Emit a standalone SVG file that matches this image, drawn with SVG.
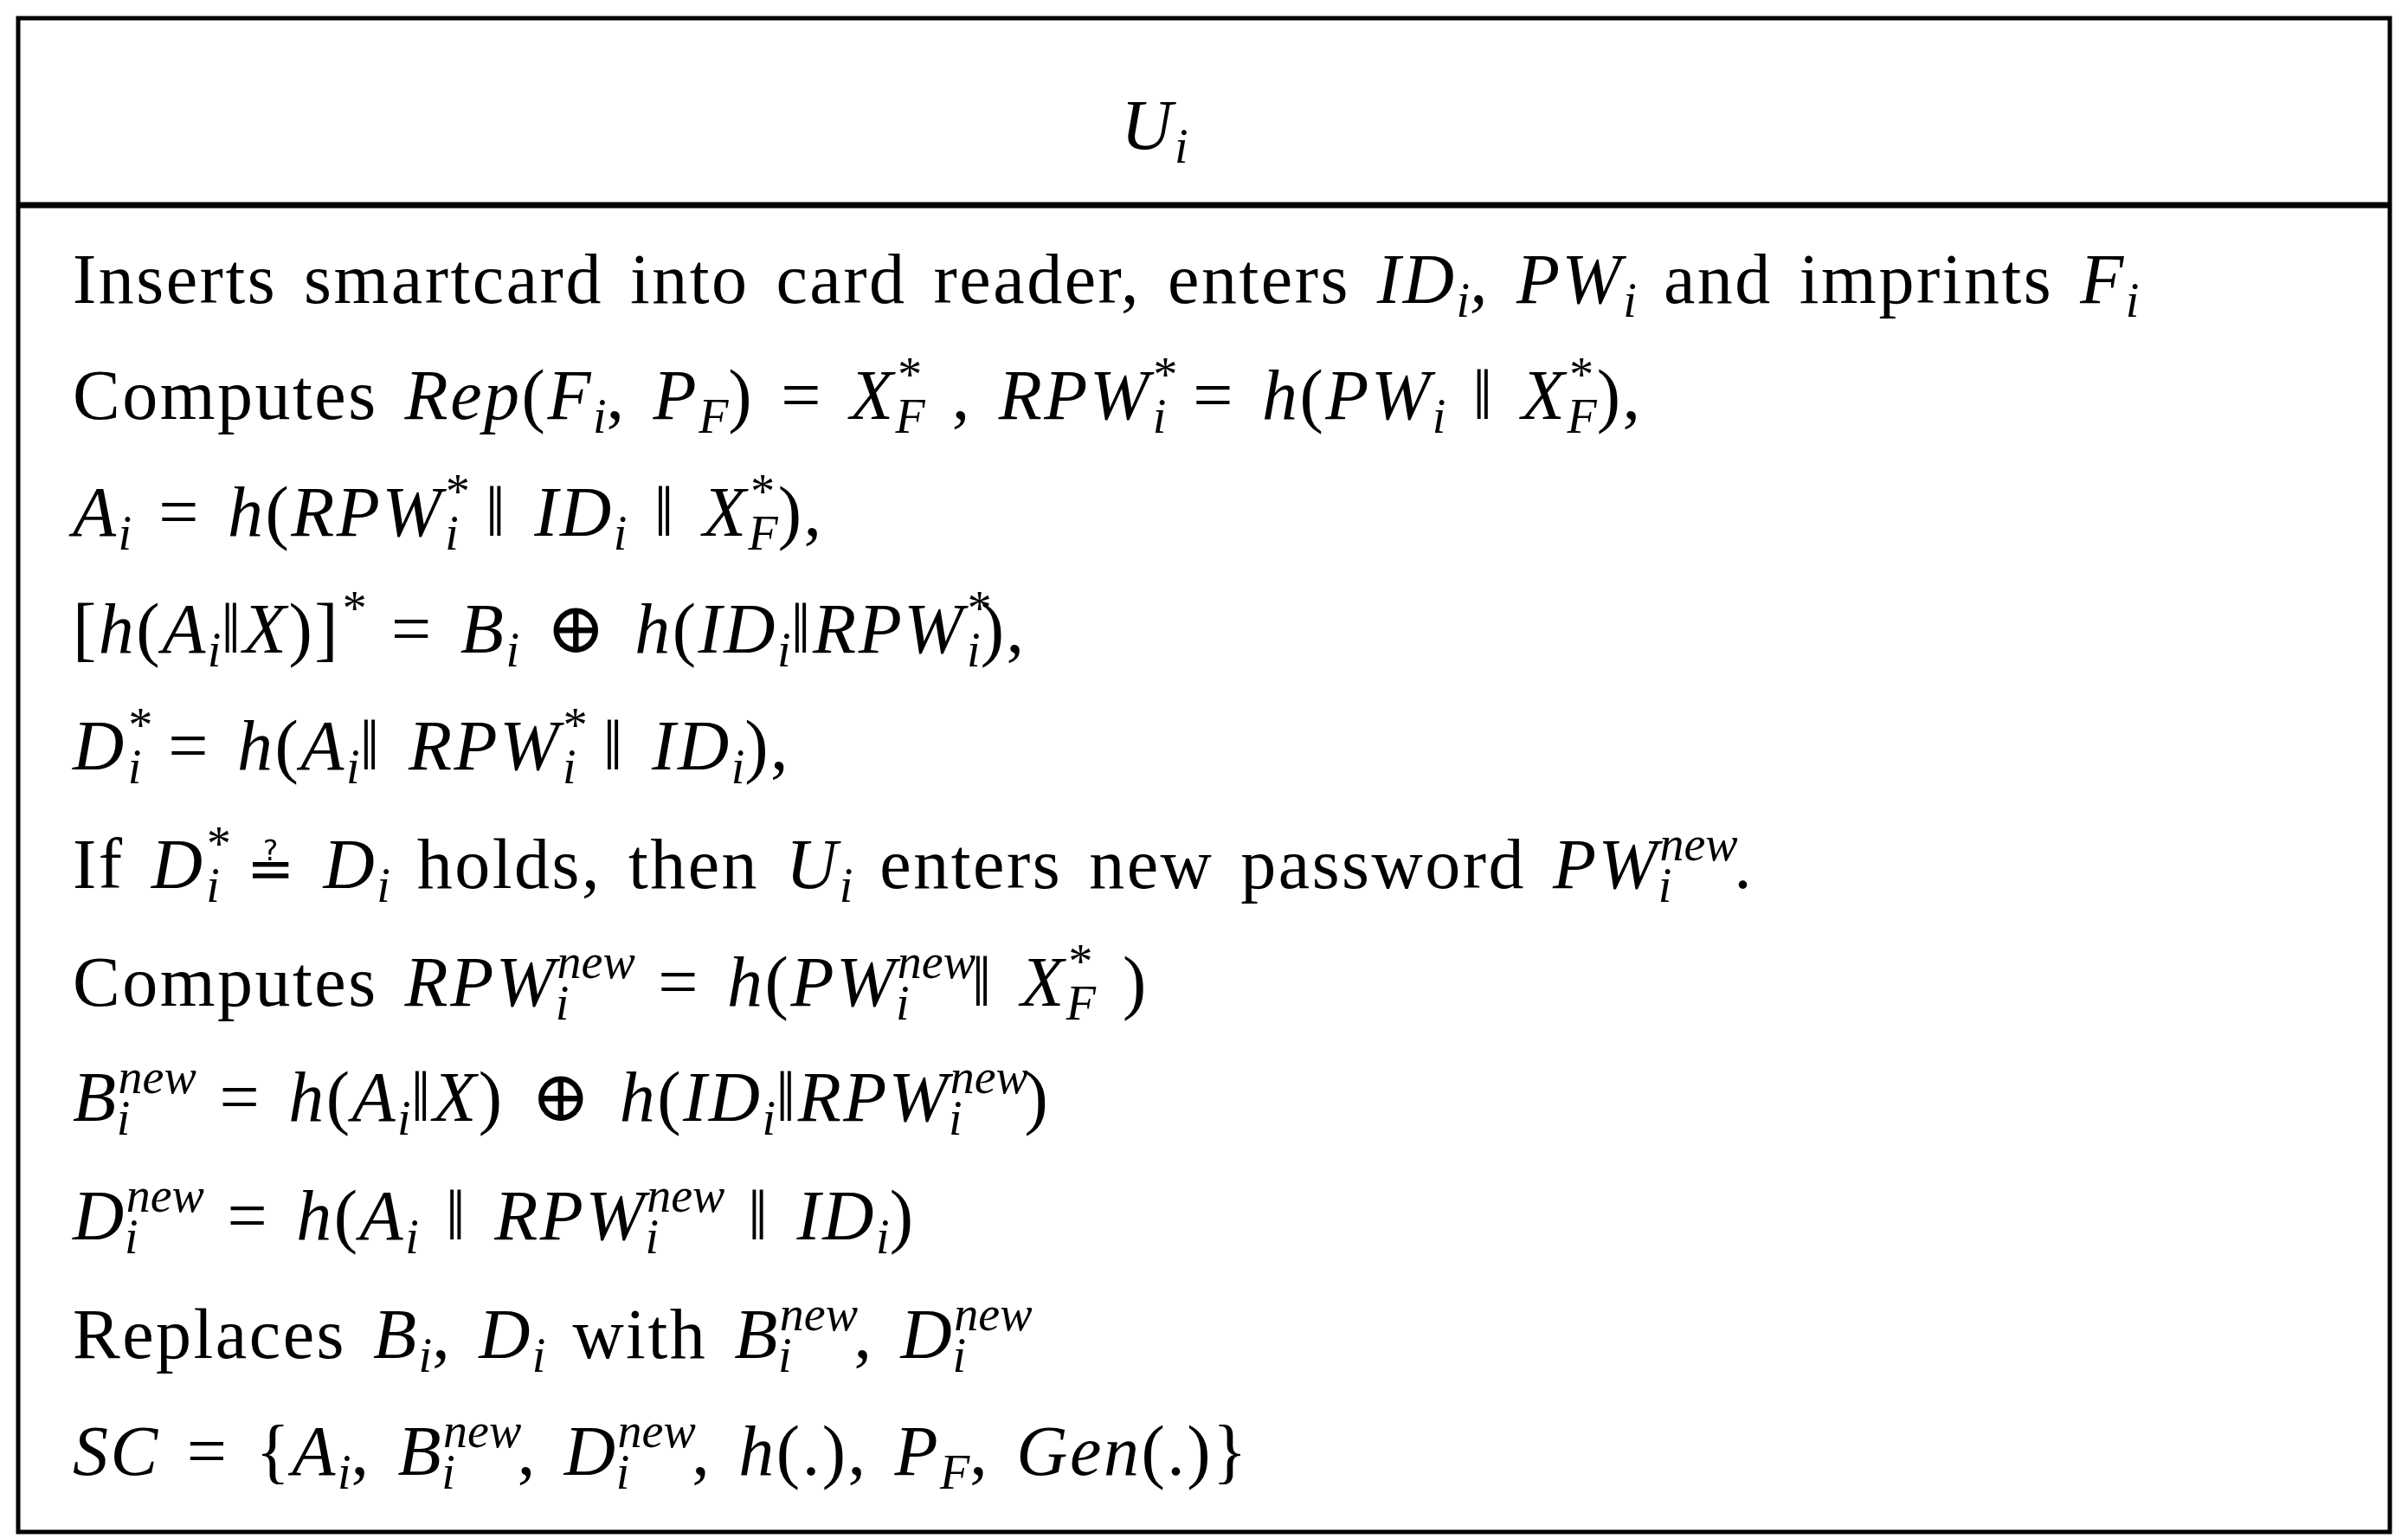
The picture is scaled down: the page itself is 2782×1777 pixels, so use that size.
<svg xmlns="http://www.w3.org/2000/svg" width="2782" height="1777" viewBox="0 0 2782 1777">
<style>
text{font-family:"Liberation Serif","DejaVu Serif",serif;font-size:82px;fill:#000;letter-spacing:2.5px;word-spacing:8px}
.m{font-style:italic}
.b{font-size:56px;font-style:italic;letter-spacing:0}
.p{baseline-shift:-16px}
.q{baseline-shift:32px}
</style>
<rect x="0" y="0" width="2782" height="1777" fill="#fff"/>
<g id="frame">
<rect x="21" y="21" width="2740" height="1749" fill="none" stroke="#000" stroke-width="5"/>
<line x1="21" y1="237" x2="2761" y2="237" stroke="#000" stroke-width="7"/>
</g>
<g id="header"><text x="1334" y="172" text-anchor="middle"><tspan class="m">U</tspan><tspan class="b p">i</tspan></text></g>
<g id="body">
<text x="84" y="350">Inserts smartcard into card reader, enters  <tspan class="m">ID</tspan><tspan class="b p">i</tspan><tspan class="m">,  PW</tspan><tspan class="b p">i</tspan> and imprints  <tspan class="m">F</tspan><tspan class="b p">i</tspan></text>
<text x="84" y="484">Computes  <tspan class="m">Rep</tspan>(<tspan class="m">F</tspan><tspan class="b p">i</tspan>,  <tspan class="m">P</tspan><tspan class="b p">F</tspan>)  =  <tspan class="m">X</tspan><tspan class="b q">*</tspan><tspan class="b p" dx="-28">F</tspan>  ,  <tspan class="m">RPW</tspan><tspan class="b q">*</tspan><tspan class="b p" dx="-26">i</tspan>  =  <tspan class="m">h</tspan>(<tspan class="m">PW</tspan><tspan class="b p">i</tspan> ‖ <tspan class="m">X</tspan><tspan class="b q">*</tspan><tspan class="b p" dx="-28">F</tspan>),</text>
<text x="84" y="619"><tspan class="m">A</tspan><tspan class="b p">i</tspan>  =  <tspan class="m">h</tspan>(<tspan class="m">RPW</tspan><tspan class="b q">*</tspan><tspan class="b p" dx="-26">i</tspan> ‖ <tspan class="m">ID</tspan><tspan class="b p">i</tspan> ‖ <tspan class="m">X</tspan><tspan class="b q">*</tspan><tspan class="b p" dx="-28">F</tspan>),</text>
<text x="84" y="754">[<tspan class="m">h</tspan>(<tspan class="m">A</tspan><tspan class="b p">i</tspan>‖<tspan class="m">X</tspan>)]<tspan class="b q">*</tspan>  =  <tspan class="m">B</tspan><tspan class="b p">i</tspan> ⊕ <tspan class="m">h</tspan>(<tspan class="m">ID</tspan><tspan class="b p">i</tspan>‖<tspan class="m">RPW</tspan><tspan class="b q">*</tspan><tspan class="b p" dx="-26">i</tspan>),</text>
<text x="84" y="889"><tspan class="m">D</tspan><tspan class="b q">*</tspan><tspan class="b p" dx="-26">i</tspan> =  <tspan class="m">h</tspan>(<tspan class="m">A</tspan><tspan class="b p">i</tspan>‖ <tspan class="m">RPW</tspan><tspan class="b q">*</tspan><tspan class="b p" dx="-26">i</tspan> ‖ <tspan class="m">ID</tspan><tspan class="b p">i</tspan>),</text>
<text x="84" y="1026">If  <tspan class="m">D</tspan><tspan class="b q">*</tspan><tspan class="b p" dx="-26">i</tspan> <tspan font-size="66">≟</tspan> <tspan class="m">D</tspan><tspan class="b p">i</tspan> holds, then  <tspan class="m">U</tspan><tspan class="b p">i</tspan>  enters new password  <tspan class="m">PW</tspan><tspan class="b q">new</tspan><tspan class="b p" dx="-92">i</tspan><tspan dx="72">.</tspan></text>
<text x="84" y="1162">Computes  <tspan class="m">RPW</tspan><tspan class="b q">new</tspan><tspan class="b p" dx="-92">i</tspan><tspan dx="72"> = </tspan><tspan class="m">h</tspan>(<tspan class="m">PW</tspan><tspan class="b q">new</tspan><tspan class="b p" dx="-92">i</tspan><tspan dx="72">‖ </tspan><tspan class="m">X</tspan><tspan class="b q">*</tspan><tspan class="b p" dx="-28">F</tspan>  )</text>
<text x="84" y="1295"><tspan class="m">B</tspan><tspan class="b q">new</tspan><tspan class="b p" dx="-92">i</tspan><tspan dx="72"> = </tspan><tspan class="m">h</tspan>(<tspan class="m">A</tspan><tspan class="b p">i</tspan>‖<tspan class="m">X</tspan>) ⊕ <tspan class="m">h</tspan>(<tspan class="m">ID</tspan><tspan class="b p">i</tspan>‖<tspan class="m">RPW</tspan><tspan class="b q">new</tspan><tspan class="b p" dx="-92">i</tspan><tspan dx="72">)</tspan></text>
<text x="84" y="1432"><tspan class="m">D</tspan><tspan class="b q">new</tspan><tspan class="b p" dx="-92">i</tspan><tspan dx="72"> =  </tspan><tspan class="m">h</tspan>(<tspan class="m">A</tspan><tspan class="b p">i</tspan> ‖ <tspan class="m">RPW</tspan><tspan class="b q">new</tspan><tspan class="b p" dx="-92">i</tspan><tspan dx="72"> ‖ </tspan><tspan class="m">ID</tspan><tspan class="b p">i</tspan>)</text>
<text x="84" y="1569">Replaces  <tspan class="m">B</tspan><tspan class="b p">i</tspan>, <tspan class="m">D</tspan><tspan class="b p">i</tspan>  with  <tspan class="m">B</tspan><tspan class="b q">new</tspan><tspan class="b p" dx="-92">i</tspan><tspan dx="72">,  </tspan><tspan class="m">D</tspan><tspan class="b q">new</tspan><tspan class="b p" dx="-92">i</tspan></text>
<text x="84" y="1704"><tspan class="m">SC</tspan> = {<tspan class="m">A</tspan><tspan class="b p">i</tspan>, <tspan class="m">B</tspan><tspan class="b q">new</tspan><tspan class="b p" dx="-92">i</tspan><tspan dx="72">,  </tspan><tspan class="m">D</tspan><tspan class="b q">new</tspan><tspan class="b p" dx="-92">i</tspan><tspan dx="72">,  </tspan><tspan class="m">h</tspan>(.), <tspan class="m">P</tspan><tspan class="b p">F</tspan>, <tspan class="m">Gen</tspan>(.)}</text>
</g>
</svg>
